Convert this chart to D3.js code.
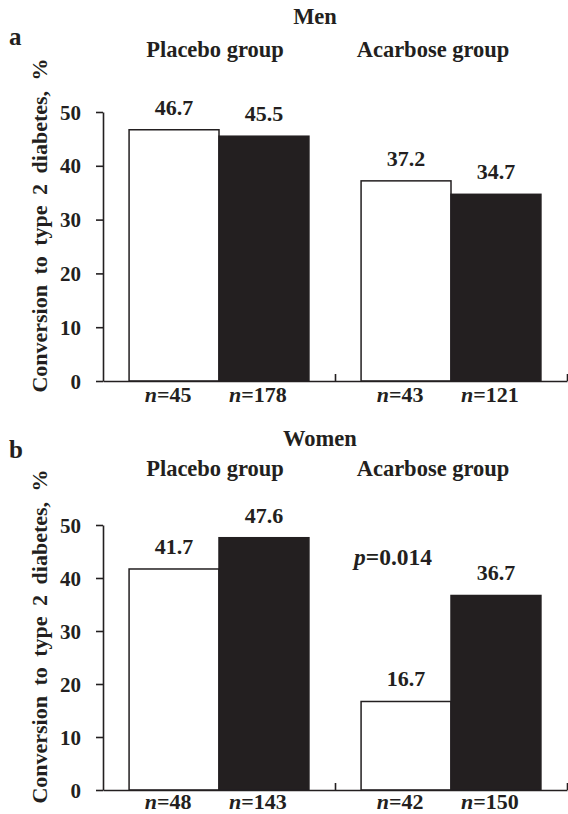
<!DOCTYPE html>
<html>
<head>
<meta charset="utf-8">
<script src="https://cdn.jsdelivr.net/npm/d3@7"></script>
<style>
  body { margin: 0; background: #fff; }
</style>
</head>
<body>
<svg id="chart" width="568" height="814"></svg>
<script>
// data
const groups = ["Placebo group", "Acarbose group"];
const subgroups = ["open", "filled"];
const yTicks = [0, 10, 20, 30, 40, 50];

const menRates = [46.7, 45.5, 37.2, 34.7];
const menN = [45, 178, 43, 121];

const womenRates = [41.7, 47.6, 16.7, 36.7];
const womenN = [48, 143, 42, 150];

const ink = "#231f20";
const fontStack = "'Liberation Serif', 'Times New Roman', serif";
const svg = d3.select("#chart");

// x is shared by both panels
const xGroup = d3.scaleBand().domain(groups).range([103, 567]);
const xSub = d3.scaleBand().domain(subgroups)
    .range([0, xGroup.bandwidth()])
    .paddingInner(0).paddingOuter(0.29);
// group headings sit a little left of the band centres
const headShift = [-4, -18];

function label(sel, size) {
  return sel.attr("fill", ink).style("font-family", fontStack)
    .style("font-weight", "bold").style("font-size", (size || 22) + "px");
}

function drawPanel(p) {
  const g = svg.append("g");
  const y = d3.scaleLinear().domain([0, 50]).range([p.y0, p.y50]);

  const bars = p.rates.map((v, i) => ({
    group: groups[i >> 1],
    sub: subgroups[i % 2],
    value: v,
    n: p.n[i]
  }));
  const bx = d => xGroup(d.group) + xSub(d.sub);
  const cx = d => bx(d) + xSub.bandwidth() / 2;

  // titles
  g.append("text").attr("x", p.titleX).attr("y", p.titleY)
    .attr("text-anchor", "middle").call(label, 22.5).text(p.title);
  g.append("text").attr("x", 9).attr("y", p.letterY)
    .call(label, 25).text(p.letter);
  g.selectAll(".grp").data(groups).enter().append("text")
    .attr("x", (d, i) => xGroup(d) + xGroup.bandwidth() / 2 + headShift[i])
    .attr("y", p.groupY)
    .attr("text-anchor", "middle").call(label, 22.5)
    .text(d => d);

  // y axis
  const yAx = g.append("g").attr("transform", "translate(103,0)")
    .call(d3.axisLeft(y).tickValues(yTicks).tickSizeInner(7).tickSizeOuter(0).tickPadding(15));
  yAx.selectAll("path,line").attr("stroke", ink).attr("stroke-width", 1.6);
  yAx.selectAll("text").call(label, 21).attr("dy", "0.34em");

  g.append("text")
    .attr("transform", `translate(47,${(p.y0 + p.y50) / 2 - 21}) rotate(-90)`)
    .attr("text-anchor", "middle").call(label, 22)
    .style("word-spacing", "5px")
    .text("Conversion to type 2 diabetes, %");

  // bars
  g.selectAll(".bar").data(bars).enter().append("rect")
    .attr("x", bx)
    .attr("y", d => y(d.value))
    .attr("width", xSub.bandwidth())
    .attr("height", d => p.y0 - y(d.value))
    .attr("fill", d => d.sub === "open" ? "#fff" : ink)
    .attr("stroke", ink).attr("stroke-width", 1.5);

  // x axis: baseline with upward ticks at group ends
  const xLin = d3.scaleLinear().domain([0, groups.length]).range(xGroup.range());
  const xAx = g.append("g").attr("transform", `translate(0,${p.y0})`)
    .call(d3.axisBottom(xLin).tickValues([1, 2]).tickSizeInner(-7).tickSizeOuter(0).tickFormat(""));
  xAx.selectAll("path,line").attr("stroke", ink).attr("stroke-width", 1.6);

  // value labels
  g.selectAll(".val").data(bars).enter().append("text")
    .attr("x", cx).attr("y", d => y(d.value) - 15)
    .attr("text-anchor", "middle").call(label, 22)
    .text(d => d.value.toFixed(1));

  // n labels
  const nl = g.selectAll(".nlab").data(bars).enter().append("text")
    .attr("x", d => cx(d) - 6).attr("y", p.y0 + p.nGap)
    .attr("text-anchor", "middle").call(label, 22);
  nl.append("tspan").style("font-style", "italic").text("n");
  nl.append("tspan").text(d => "=" + d.n);

  return { g, y };
}

drawPanel({ rates: menRates, n: menN, title: "Men", letter: "a",
  y0: 381, y50: 112, titleX: 315, titleY: 24, letterY: 45, groupY: 57, nGap: 21 });

const b = drawPanel({ rates: womenRates, n: womenN, title: "Women", letter: "b",
  y0: 790, y50: 525, titleX: 320, titleY: 446, letterY: 458, groupY: 476, nGap: 19 });

const pt = b.g.append("text")
  .attr("x", xGroup("Acarbose group") + 19).attr("y", b.y(42.5))
  .call(label, 23.5);
pt.append("tspan").style("font-style", "italic").text("p");
pt.append("tspan").text("=0.014");
</script>
</body>
</html>
